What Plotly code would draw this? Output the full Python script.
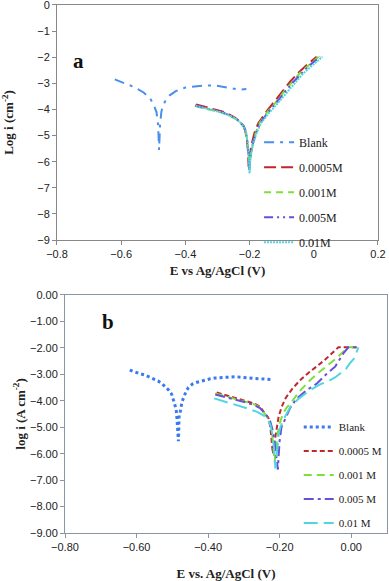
import plotly.graph_objects as go

# ---- panel a ----
E_blank_a = [-0.62, -0.59, -0.56, -0.53, -0.51, -0.50, -0.49, -0.485, -0.482, -0.479, -0.475, -0.47,
             -0.46, -0.45, -0.43, -0.40, -0.37, -0.34, -0.31, -0.28, -0.25, -0.23, -0.21]
i_blank_a = [-2.85, -2.98, -3.14, -3.35, -3.58, -3.78, -4.1, -4.6, -5.55, -4.6, -4.1, -3.85,
             -3.62, -3.47, -3.3, -3.16, -3.11, -3.08, -3.08, -3.15, -3.22, -3.24, -3.22]

E_a1 = [-0.367, -0.34, -0.313, -0.285, -0.261, -0.245, -0.230, -0.220, -0.214, -0.209, -0.205, -0.203,
        -0.201, -0.198, -0.193, -0.185, -0.173, -0.15, -0.126, -0.10, -0.074, -0.05, -0.022, 0.009]
i_a1 = [-3.81, -3.90, -3.98, -4.08, -4.21, -4.32, -4.47, -4.6, -4.79, -5.1, -5.6, -6.2,
        -5.9, -5.6, -5.30, -4.9, -4.53, -4.12, -3.77, -3.35, -2.94, -2.62, -2.30, -1.98]
E_a2 = [-0.37, -0.34, -0.31, -0.285, -0.26, -0.243, -0.228, -0.218, -0.212, -0.207, -0.203, -0.201,
        -0.199, -0.195, -0.189, -0.180, -0.168, -0.145, -0.12, -0.094, -0.068, -0.043, -0.015, 0.015]
i_a2 = [-3.87, -3.96, -4.04, -4.13, -4.26, -4.37, -4.52, -4.67, -4.86, -5.2, -5.7, -6.3,
        -5.95, -5.6, -5.25, -4.87, -4.5, -4.1, -3.75, -3.34, -2.94, -2.6, -2.3, -1.98]
E_a3 = [-0.37, -0.34, -0.31, -0.285, -0.26, -0.243, -0.228, -0.218, -0.212, -0.207, -0.203, -0.201,
        -0.199, -0.195, -0.189, -0.180, -0.167, -0.143, -0.118, -0.092, -0.066, -0.04, -0.012, 0.02]
i_a3 = [-3.85, -3.94, -4.02, -4.11, -4.24, -4.35, -4.5, -4.65, -4.84, -5.2, -5.75, -6.35,
        -5.95, -5.6, -5.27, -4.9, -4.52, -4.12, -3.77, -3.37, -2.97, -2.63, -2.3, -1.98]
E_a4 = [-0.368, -0.34, -0.31, -0.285, -0.26, -0.243, -0.228, -0.218, -0.211, -0.206, -0.202, -0.200,
        -0.198, -0.194, -0.188, -0.178, -0.165, -0.14, -0.115, -0.088, -0.06, -0.035, -0.005, 0.027]
i_a4 = [-3.86, -3.95, -4.03, -4.12, -4.25, -4.36, -4.5, -4.66, -4.85, -5.3, -5.9, -6.45,
        -6.0, -5.6, -5.27, -4.9, -4.53, -4.14, -3.8, -3.4, -3.0, -2.65, -2.32, -1.98]

# ---- panel b ----
E_blank_b = [-0.619, -0.604, -0.592, -0.578, -0.566, -0.553, -0.540, -0.529, -0.519, -0.510, -0.502,
             -0.494, -0.490, -0.488, -0.485, -0.483, -0.481, -0.478, -0.473, -0.469, -0.462, -0.455,
             -0.444, -0.433, -0.419, -0.407, -0.394, -0.381, -0.366, -0.353, -0.340, -0.323, -0.300,
             -0.270, -0.250, -0.225]
i_blank_b = [-2.84, -2.92, -2.97, -3.02, -3.09, -3.17, -3.25, -3.35, -3.47, -3.60, -3.75,
             -4.08, -4.29, -4.48, -5.00, -5.53, -4.55, -4.42, -4.04, -3.88, -3.66, -3.50,
             -3.37, -3.31, -3.25, -3.21, -3.17, -3.14, -3.12, -3.11, -3.11, -3.09, -3.12,
             -3.16, -3.19, -3.20]

E_b1 = [-0.376, -0.35, -0.319, -0.295, -0.272, -0.255, -0.244, -0.236, -0.231, -0.226, -0.223, -0.221,
        -0.219, -0.216, -0.212, -0.207, -0.203, -0.195, -0.184, -0.165, -0.143, -0.12, -0.096, -0.075,
        -0.059, -0.045, -0.036, -0.02, 0.0, 0.019]
i_b1 = [-3.69, -3.79, -3.91, -4.0, -4.10, -4.22, -4.42, -4.55, -4.67, -5.0, -5.5, -5.87,
        -6.0, -5.7, -5.3, -4.9, -4.61, -4.25, -3.91, -3.55, -3.22, -2.95, -2.71, -2.47,
        -2.27, -2.1, -1.98, -1.98, -1.98, -1.98]
E_b2 = [-0.38, -0.35, -0.32, -0.295, -0.272, -0.255, -0.243, -0.235, -0.229, -0.222, -0.217, -0.214,
        -0.212, -0.209, -0.205, -0.200, -0.194, -0.183, -0.170, -0.145, -0.115, -0.09, -0.064, -0.042,
        -0.022, -0.01, 0.005, 0.02]
i_b2 = [-3.72, -3.83, -3.94, -4.03, -4.13, -4.25, -4.45, -4.58, -4.72, -5.1, -5.7, -6.3,
        -6.0, -5.6, -5.2, -4.85, -4.61, -4.3, -4.10, -3.65, -3.22, -2.92, -2.65, -2.4,
        -2.15, -1.98, -1.98, -1.98]
E_b3 = [-0.38, -0.35, -0.32, -0.295, -0.272, -0.255, -0.242, -0.233, -0.226, -0.218, -0.212, -0.208,
        -0.205, -0.203, -0.200, -0.195, -0.184, -0.170, -0.152, -0.125, -0.096, -0.07, -0.045, -0.033,
        -0.022, -0.008, 0.005, 0.02]
i_b3 = [-3.76, -3.86, -3.97, -4.06, -4.16, -4.28, -4.47, -4.62, -4.8, -5.2, -5.8, -6.3,
        -6.6, -6.1, -5.5, -5.0, -4.67, -4.25, -3.91, -3.6, -3.35, -3.0, -2.71, -2.45,
        -2.21, -1.98, -1.98, -1.98]
E_b4 = [-0.383, -0.35, -0.319, -0.29, -0.263, -0.248, -0.235, -0.226, -0.220, -0.215, -0.212, -0.210,
        -0.207, -0.203, -0.198, -0.185, -0.170, -0.145, -0.115, -0.09, -0.059, -0.045, -0.031, -0.015,
        -0.004, 0.008, 0.015, 0.019, 0.02]
i_b4 = [-3.91, -4.04, -4.17, -4.29, -4.42, -4.53, -4.67, -4.9, -5.3, -5.9, -6.56, -6.2,
        -5.7, -5.3, -4.99, -4.6, -4.23, -3.9, -3.60, -3.4, -3.22, -3.12, -2.97, -2.8,
        -2.59, -2.4, -2.15, -2.05, -1.98]

names_a = ["Blank", "0.0005M", "0.001M", "0.005M", "0.01M"]
names_b = ["Blank", "0.0005 M", "0.001 M", "0.005 M", "0.01 M"]
colors = ["#4a8fec", "#c0262e", "#7fdf3a", "#6650d6", "#4fd6e0"]
dash_a = ["10px,6px,3px,6px", "12px,5px", "7px,5px", "9px,4px,2px,4px,2px,4px", "2px,1px"]
dash_b = ["3px,3px", "5px,3px", "8px,5px", "10px,4px,3px,4px", "14px,6px"]

data_a = [(E_blank_a, i_blank_a), (E_a1, i_a1), (E_a2, i_a2), (E_a3, i_a3), (E_a4, i_a4)]
data_b = [(E_blank_b, i_blank_b), (E_b1, i_b1), (E_b2, i_b2), (E_b3, i_b3), (E_b4, i_b4)]

fig = go.Figure()
for k, (x, y) in enumerate(data_a):
    fig.add_trace(go.Scatter(x=x, y=y, mode="lines", name=names_a[k], xaxis="x", yaxis="y",
                             legend="legend", legendgroup="a%d" % k,
                             line=dict(color=colors[k], width=2, dash=dash_a[k])))
for k, (x, y) in enumerate(data_b):
    fig.add_trace(go.Scatter(x=x, y=y, mode="lines", name=names_b[k], xaxis="x2", yaxis="y2",
                             legend="legend2", legendgroup="b%d" % k,
                             line=dict(color="#3a7af0" if k == 0 else colors[k],
                                       width=3 if k == 0 else 2, dash=dash_b[k])))

serif = "Liberation Serif"
sans = "Liberation Sans"
ax_common = dict(showline=True, mirror=True, linewidth=1, ticks="outside", ticklen=4,
                 showgrid=False, zeroline=False, automargin=False, ticklabeloverflow="allow",
                 tickfont=dict(family=sans, size=11, color="#222"))

fig.update_layout(
    width=389, height=581, margin=dict(l=0, r=0, t=0, b=0),
    paper_bgcolor="white", plot_bgcolor="white",
    xaxis=dict(domain=[0.1465, 0.9717], anchor="y", range=[-0.8, 0.2], dtick=0.2,
               linecolor="#888", tickcolor="#888",
               title=dict(text="<b>E vs Ag/AgCl (V)</b>", font=dict(family=serif, size=13, color="#222"), standoff=6),
               **ax_common),
    yaxis=dict(domain=[0.5869, 0.9914], anchor="x", range=[-9, 0], dtick=1,
               linecolor="#888", tickcolor="#888",
               title=dict(text="<b>Log i (cm<sup>-2</sup>)</b>", font=dict(family=serif, size=13, color="#222"), standoff=20),
               **ax_common),
    xaxis2=dict(domain=[0.1671, 0.9949], anchor="y2", range=[-0.8, 0.1], dtick=0.2, tickformat=".2f",
                linecolor="#8a96a6", tickcolor="#8a96a6",
                title=dict(text="<b>E vs. Ag/AgCl (V)</b>", font=dict(family=serif, size=13, color="#222"), standoff=21),
                **ax_common),
    yaxis2=dict(domain=[0.0826, 0.4923], anchor="x2", range=[-9, 0], dtick=1, tickformat=".2f",
                linecolor="#8a96a6", tickcolor="#8a96a6",
                title=dict(text="<b>log i (A cm<sup>-2</sup>)</b>", font=dict(family=serif, size=13, color="#222"), standoff=1),
                **ax_common),
    legend=dict(x=0.666, y=0.780, xanchor="left", yanchor="top", bgcolor="rgba(0,0,0,0)",
                traceorder="grouped", tracegroupgap=6, font=dict(family=serif, size=12, color="#222")),
    legend2=dict(x=0.768, y=0.290, xanchor="left", yanchor="top", bgcolor="rgba(0,0,0,0)",
                 traceorder="grouped", tracegroupgap=5, font=dict(family=serif, size=11, color="#222")),
    annotations=[
        dict(text="<b>a</b>", x=71 / 389, y=1 - 47 / 581, xref="paper", yref="paper", showarrow=False,
             font=dict(family=serif, size=21, color="#111")),
        dict(text="<b>b</b>", x=100 / 389, y=1 - 322 / 581, xref="paper", yref="paper", showarrow=False,
             font=dict(family=serif, size=21, color="#111")),
    ],
)

fig.write_html("out.html", config={"displayModeBar": False},
               post_script="document.body.style.margin='0';")
